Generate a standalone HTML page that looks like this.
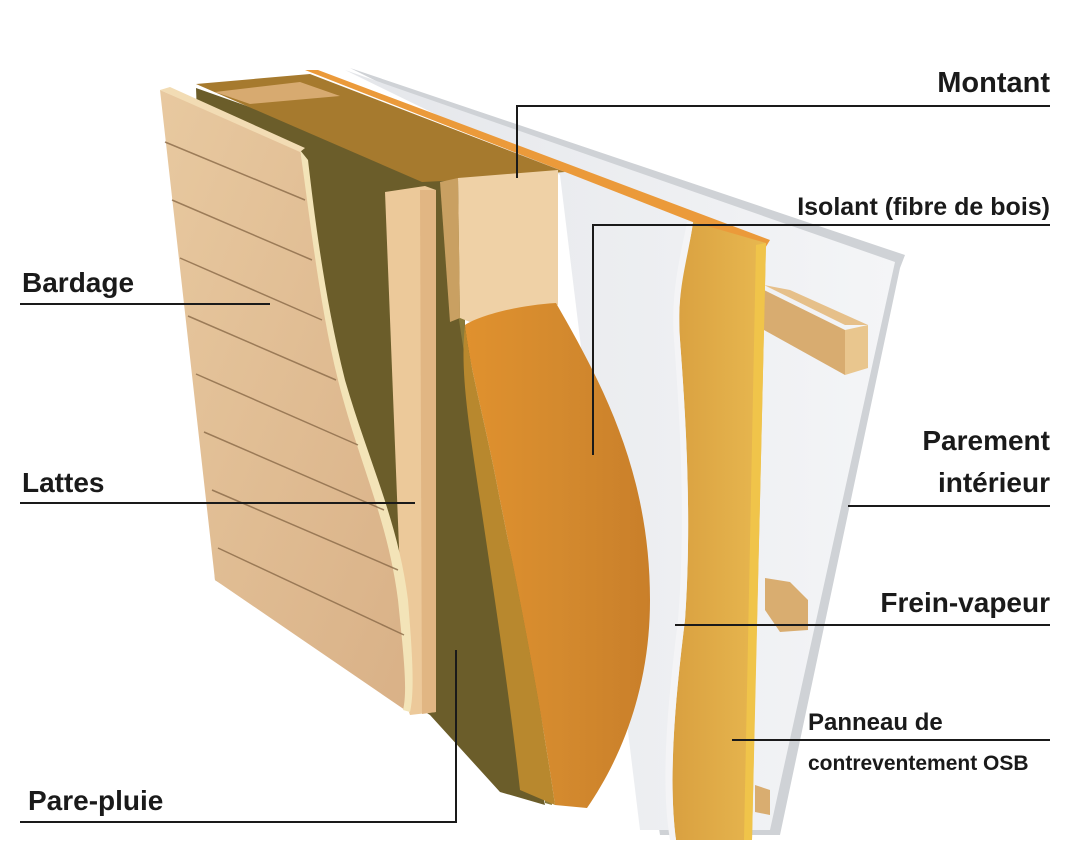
<!DOCTYPE html>
<html><head><meta charset="utf-8"><style>
html,body{margin:0;padding:0;background:#fff;}
svg{display:block;}
text{font-family:"Liberation Sans",sans-serif;font-weight:bold;fill:#1a1a1a;}
</style></head><body>
<svg width="1075" height="849" viewBox="0 0 1075 849" xmlns="http://www.w3.org/2000/svg">
<defs>
<linearGradient id="wood" x1="0" y1="0" x2="1" y2="1"><stop offset="0" stop-color="#e8c9a0"/><stop offset="1" stop-color="#d9b187"/></linearGradient>
<linearGradient id="ins" x1="0" y1="0" x2="1" y2="0"><stop offset="0" stop-color="#e0912e"/><stop offset="0.5" stop-color="#d48a2e"/><stop offset="1" stop-color="#c97f2a"/></linearGradient>
<linearGradient id="osb" x1="0" y1="0" x2="1" y2="0"><stop offset="0" stop-color="#d9a040"/><stop offset="1" stop-color="#e8b850"/></linearGradient>
<linearGradient id="wall" x1="0" y1="0" x2="1" y2="0"><stop offset="0" stop-color="#e4e6ea"/><stop offset="1" stop-color="#f4f5f7"/></linearGradient>
</defs>
<!-- gypsum back panel -->
<polygon points="350,68 905,255 900,268 780,835 660,835 560,172" fill="#cfd2d6"/>
<polygon points="345,70 895,262 770,830 640,830 560,175" fill="url(#wall)"/>
<!-- orange top strip -->
<polygon points="305,70 318,70 770,240 764,250" fill="#eb9a3a"/>
<!-- right battens -->
<polygon points="764,285 845,325 868,325 790,290" fill="#e6c08a"/>
<polygon points="764,290 845,330 845,375 764,330" fill="#d8ac70"/>
<polygon points="845,330 868,325 868,368 845,375" fill="#e9c68e"/>
<polygon points="765,578 790,582 808,600 808,630 780,632 765,610" fill="#d9ad70"/>
<polygon points="755,785 770,790 770,815 755,812" fill="#d9ad70"/>
<!-- OSB -->
<path d="M693,222 L766,243 L760,500 L755,700 L752,840 L676,840 C668,780 675,700 685,620 C692,520 686,420 680,340 C676,280 690,250 693,222 Z" fill="url(#osb)"/>
<path d="M756,245 L766,243 L760,500 L752,840 L744,840 Z" fill="#f0c44a"/>
<path d="M693,222 C688,260 676,290 680,340 C686,420 692,520 685,620 C675,700 668,780 676,840 L670,840 C660,780 668,700 678,620 C686,520 680,420 674,340 C670,290 682,250 687,222Z" fill="#f4f4f6"/>
<!-- dark green pare-pluie layer -->
<polygon points="196,88 462,182 465,325 480,420 500,540 522,700 545,805 500,792 430,715 215,580" fill="#6b5d2a"/>
<path d="M448,200 L462,205 L465,330 C480,430 505,520 525,620 C540,700 548,760 552,805 L545,803 C538,700 520,620 500,530 C478,430 458,340 450,240 Z" fill="#8a7a3a"/>
<!-- stud top band -->
<polygon points="196,84 310,74 565,172 462,180 422,182" fill="#a67a2e"/>
<polygon points="215,92 300,82 340,96 250,104" fill="#d7aa70"/>
<!-- stud front -->
<polygon points="458,178 558,170 558,305 470,322 460,318" fill="#efd1a6"/>
<polygon points="440,182 458,178 460,318 450,322" fill="#c9a062"/>
<!-- insulation -->
<path d="M465,325 C480,315 520,305 556,303 C600,380 650,470 650,600 C650,690 620,760 587,808 L555,805 C540,700 520,600 500,500 C485,420 470,370 465,325Z" fill="url(#ins)"/>
<path d="M465,325 C470,370 485,420 500,500 C520,600 540,700 555,805 L520,790 C510,700 495,600 480,500 C468,420 460,370 465,325Z" fill="#b8882e"/>
<!-- lattes -->
<polygon points="385,192 425,186 436,190 436,712 410,715 405,700" fill="#ecc99a"/>
<polygon points="420,190 436,190 436,712 422,714" fill="#e1b683"/>
<!-- bardage -->
<path d="M160,90 L300,150 C310,200 320,300 340,380 C360,460 390,520 400,600 C405,650 410,690 405,710 L215,580 Z" fill="url(#wood)"/>
<path d="M300,150 L308,160 C315,220 325,300 345,380 C368,460 398,520 408,600 C412,650 415,690 410,712 L403,710 C408,690 403,650 398,600 C388,520 358,460 338,380 C318,300 308,200 300,150Z" fill="#f3e4b8"/>
<polygon points="160,90 170,87 305,148 300,152" fill="#f2dcb4"/>
<g stroke="#8a6a48" stroke-width="1.5" opacity="0.8">
<line x1="165" y1="142" x2="305" y2="200"/>
<line x1="172" y1="200" x2="312" y2="260"/>
<line x1="180" y1="258" x2="322" y2="320"/>
<line x1="188" y1="316" x2="336" y2="380"/>
<line x1="196" y1="374" x2="358" y2="445"/>
<line x1="204" y1="432" x2="384" y2="510"/>
<line x1="212" y1="490" x2="398" y2="570"/>
<line x1="218" y1="548" x2="404" y2="635"/>
</g>
<!-- leader lines -->
<g stroke="#1a1a1a" stroke-width="2" fill="none">
<polyline points="517,178 517,106 1050,106"/>
<polyline points="593,455 593,225 1050,225"/>
<line x1="20" y1="304" x2="270" y2="304"/>
<line x1="20" y1="503" x2="415" y2="503"/>
<line x1="848" y1="506" x2="1050" y2="506"/>
<line x1="675" y1="625" x2="1050" y2="625"/>
<line x1="732" y1="740" x2="1050" y2="740"/>
<polyline points="456,650 456,822 20,822"/>
</g>
<!-- labels -->
<text x="1050" y="92" font-size="29" text-anchor="end">Montant</text>
<text x="1050" y="215" font-size="25" text-anchor="end">Isolant (fibre de bois)</text>
<text x="22" y="292" font-size="28">Bardage</text>
<text x="22" y="492" font-size="28">Lattes</text>
<text x="1050" y="450" font-size="28" text-anchor="end">Parement</text>
<text x="1050" y="492" font-size="28" text-anchor="end">intérieur</text>
<text x="1050" y="612" font-size="28" text-anchor="end">Frein-vapeur</text>
<text x="808" y="730" font-size="24">Panneau de</text>
<text x="808" y="770" font-size="21">contreventement OSB</text>
<text x="28" y="810" font-size="28">Pare-pluie</text>
</svg>
</body></html>
